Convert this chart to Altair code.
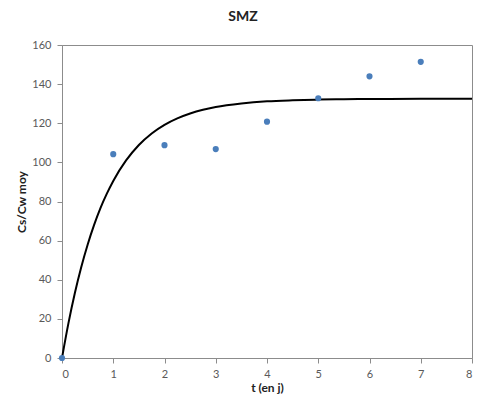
import altair as alt
import pandas as pd

# observed points
obs_t = [0, 1, 2, 3, 4, 5, 6, 7]
obs_y = [0, 104.2, 108.8, 106.8, 120.8, 132.8, 144.0, 151.4]

# model curve
fit_t = [0, 0.125, 0.25, 0.375, 0.5, 0.625, 0.75, 0.875, 1, 1.25, 1.5, 1.75, 2,
         2.25, 2.5, 2.75, 3, 3.5, 4, 4.5, 5, 5.5, 6, 7, 8]
fit_y = [0, 17.7, 33.1, 46.4, 57.9, 67.9, 76.6, 84.0, 90.5, 101.0, 108.9, 114.8, 119.2,
         122.5, 125.0, 126.9, 128.3, 130.1, 131.2, 131.75, 132.1, 132.3, 132.4, 132.5, 132.5]

obs = pd.DataFrame({"t": obs_t, "y": obs_y})
fit = pd.DataFrame({"t": fit_t, "y": fit_y})

FONT = "Lato"
GRAY = "#8c8c8c"
W, H = 410, 313

x = alt.X("t:Q", scale=alt.Scale(domain=[0, 8], nice=False),
          axis=alt.Axis(title="t (en j)", values=list(range(0, 9)), format="d",
                        labelPadding=5,
                        titleX=W / 2, titleY=29, titleBaseline="middle", titleAlign="center"))
y = alt.Y("y:Q", scale=alt.Scale(domain=[0, 160], nice=False),
          axis=alt.Axis(title="Cs/Cw moy", values=list(range(0, 161, 20)), format="d",
                        labelPadding=6,
                        titleX=-41, titleY=H / 2, titleAngle=-90, titleBaseline="middle",
                        titleAlign="center"))

line = alt.Chart(fit).mark_line(color="black", strokeWidth=2, interpolate="monotone").encode(x=x, y=y)
pts = alt.Chart(obs).mark_circle(color="#4a7ebb", size=38, opacity=1).encode(x=x, y=y)

chart = (line + pts).properties(
    width=W, height=H,
    title=alt.TitleParams("SMZ", fontSize=14, font=FONT, fontWeight="bold", color="#222222",
                          anchor="middle", dx=-24, offset=15),
    autosize=alt.AutoSizeParams(type="none"),
    padding={"left": 54, "top": 37, "right": 2, "bottom": 37},
).configure_view(stroke=GRAY, strokeWidth=1).configure_axis(
    grid=False, domainColor=GRAY, tickColor=GRAY, tickSize=5,
    labelFont=FONT, labelFontSize=11, labelColor="#595959",
    titleFont=FONT, titleFontSize=12, titleFontWeight="bold", titleColor="#222222",
)

chart.save("out.html", embed_options={"renderer": "svg", "actions": False})
